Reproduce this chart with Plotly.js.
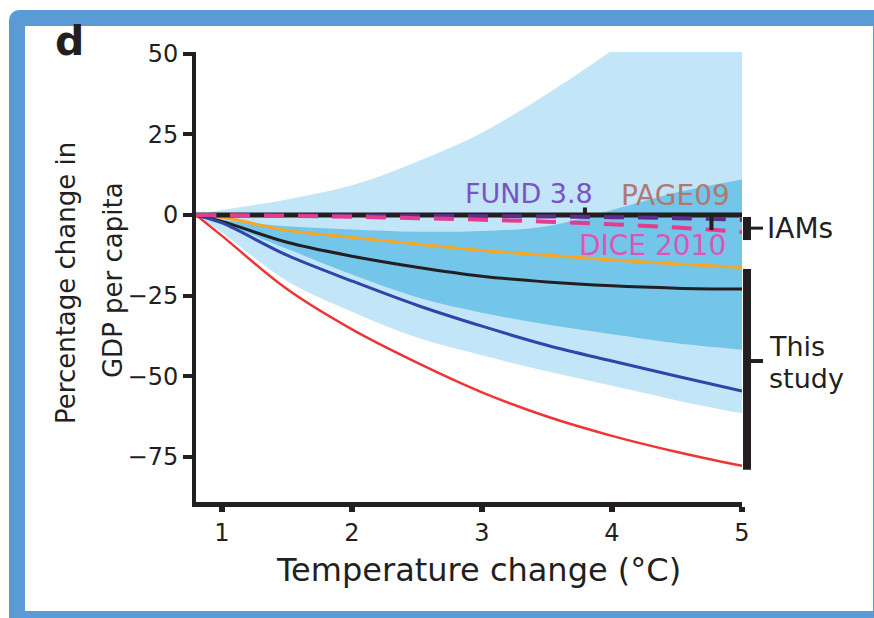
<!DOCTYPE html>
<html>
<head>
<meta charset="utf-8">
<script src="https://cdn.plot.ly/plotly-3.0.1.min.js"></script>
<style>
html, body { margin: 0; padding: 0; background: #ffffff; }
body { position: relative; width: 874px; height: 618px; overflow: hidden; }
#frame { position: absolute; left: 9px; top: 10px; width: 880px; height: 617px; box-sizing: border-box;
         border: 16px solid #5b9bd5; border-radius: 10px; }
#chart { position: absolute; left: 0; top: 0; width: 874px; height: 618px; }
</style>
</head>
<body>
<div id="frame"></div>
<div id="chart"></div>
<script>
// Temperature change (°C)
const tempC = [0.8, 1, 1.5, 2, 2.5, 3, 3.5, 4, 4.5, 5];

// Uncertainty bands (percentage change in GDP per capita)
const outerBandUpper = [0, 1.5, 4.8, 9.2, 16.5, 25.5, 37.5, 51, 66, 83];
const outerBandLower = [0, -5.5, -20.5, -30, -38, -43.5, -48.5, -53, -57.5, -61.5];
const innerBandUpper = [0, -1.5, -3.5, -4.5, -5.2, -5, -3.5, 1.5, 7, 11];
const innerBandLower = [0, -2.5, -10.5, -18.5, -25.5, -30.3, -34, -37, -39.8, -41.8];

// This study: curves
const medianLine = [0, -2, -8.5, -12.8, -16.2, -19, -20.8, -22, -22.7, -23];
const orangeLine = [0, -0.7, -4.8, -7, -9, -11, -12.5, -14, -15.2, -16.3];
const blueLine   = [0, -2.5, -12.5, -20.5, -28, -34.5, -40.4, -45.3, -50, -54.6];
const redLine    = [0, -6.5, -23, -35.5, -45.8, -55, -62.5, -68.5, -73.5, -77.8];

// IAMs
const zeroLine = [0, 0, 0, 0, 0, 0, 0, 0, 0, 0];
const fund38   = [0, 0, -0.1, -0.2, -0.3, -0.4, -0.5, -0.7, -1.0, -1.5];
const dice2010 = [0, -0.1, -0.3, -0.6, -1, -1.5, -2.1, -2.9, -3.9, -5.3];

// Axis ticks
const xTicks = [1, 2, 3, 4, 5];
const yTicks = [-75, -50, -25, 0, 25, 50];

const INK = '#231f20';
const FONT = 'DejaVu Sans, Arial, sans-serif';

function band(y, name, fill, color) {
  return { x: tempC, y: y, name: name, type: 'scatter', mode: 'lines',
           line: { width: 0, shape: 'spline', smoothing: 1, color: color },
           fill: fill, fillcolor: color, hoverinfo: 'skip', showlegend: false };
}
function curve(y, name, color, width, dash) {
  return { x: tempC, y: y, name: name, type: 'scatter', mode: 'lines',
           line: { width: width, color: color, shape: 'spline', smoothing: 1, dash: dash || 'solid' },
           hoverinfo: 'skip', showlegend: false };
}

const traces = [
  band(outerBandLower, 'outer lower', 'none', '#c2e5f7'),
  band(outerBandUpper, 'outer upper', 'tonexty', '#c2e5f7'),
  band(innerBandLower, 'inner lower', 'none', '#73c6ea'),
  band(innerBandUpper, 'inner upper', 'tonexty', '#73c6ea'),
  curve(orangeLine, 'orange', '#f5a623', 3),
  curve(medianLine, 'median', INK, 3),
  curve(blueLine, 'blue', '#2c46aa', 3),
  curve(redLine, 'red', '#ee3535', 2.5),
  curve(zeroLine, 'zero', INK, 5),
  curve(fund38, 'FUND 3.8', '#5e2d8a', 4, '20px,14px'),
  curve(dice2010, 'DICE 2010', '#e23d8e', 4, '20px,14px')
];

const layout = {
  width: 874, height: 618,
  margin: { l: 196, r: 132, t: 52, b: 116, pad: 0 },
  paper_bgcolor: 'rgba(0,0,0,0)',
  plot_bgcolor: 'rgba(0,0,0,0)',
  showlegend: false,
  font: { family: FONT, color: INK },
  xaxis: {
    range: [0.8, 5], tickvals: xTicks, ticktext: xTicks.map(String),
    showline: true, linecolor: INK, linewidth: 5,
    ticks: 'outside', ticklen: 5, tickwidth: 6, tickcolor: INK,
    showgrid: false, zeroline: false,
    tickfont: { family: FONT, size: 24, color: INK }
  },
  yaxis: {
    range: [-89, 50.5], tickvals: yTicks, ticktext: yTicks.map(v => v < 0 ? '\u2212' + Math.abs(v) : String(v)),
    showline: true, linecolor: INK, linewidth: 4,
    ticks: 'outside', ticklen: 9, tickwidth: 4, tickcolor: INK,
    showgrid: false, zeroline: false,
    tickfont: { family: FONT, size: 24, color: INK }
  },
  shapes: [
    // leader marks
    { type: 'line', xref: 'x', yref: 'y', x0: 3.792, x1: 3.792, y0: 0, y1: 2.3, line: { color: INK, width: 4 } },
    { type: 'line', xref: 'x', yref: 'y', x0: 4.765, x1: 4.765, y0: 0.5, y1: -4.7, line: { color: INK, width: 4 } },
    // IAMs bracket
    { type: 'line', xref: 'paper', yref: 'y', x0: 1.0092, x1: 1.0092, y0: -0.65, y1: -7.8, line: { color: INK, width: 8 } },
    { type: 'line', xref: 'paper', yref: 'y', x0: 1.0165, x1: 1.0385, y0: -4.1, y1: -4.1, line: { color: INK, width: 3 } },
    // This study bracket
    { type: 'line', xref: 'paper', yref: 'y', x0: 1.0092, x1: 1.0092, y0: -16.8, y1: -79.0, line: { color: INK, width: 8 } },
    { type: 'line', xref: 'paper', yref: 'y', x0: 1.0165, x1: 1.0385, y0: -45.3, y1: -45.3, line: { color: INK, width: 4 } }
  ],
  annotations: [
    { text: '<b>d</b>', xref: 'paper', yref: 'paper', x: -0.2317, y: 1.0244, showarrow: false,
      font: { family: 'DejaVu Sans', size: 41, color: INK }, xanchor: 'center', yanchor: 'middle' },
    { text: 'Percentage change in', xref: 'paper', yref: 'paper', x: -0.2381, y: 0.4867, textangle: -90,
      showarrow: false, font: { family: FONT, size: 26, color: INK }, xanchor: 'center', yanchor: 'middle' },
    { text: 'GDP per capita', xref: 'paper', yref: 'paper', x: -0.152, y: 0.4933, textangle: -90,
      showarrow: false, font: { family: FONT, size: 26, color: INK }, xanchor: 'center', yanchor: 'middle' },
    { text: 'Temperature change (°C)', xref: 'paper', yref: 'paper', x: 0.5183, y: -0.152, showarrow: false,
      font: { family: FONT, size: 32, color: INK }, xanchor: 'center', yanchor: 'middle' },
    { text: 'FUND 3.8', xref: 'x', yref: 'y', x: 3.362, y: 6.5, showarrow: false,
      font: { family: FONT, size: 27, color: '#7b52c4' }, xanchor: 'center', yanchor: 'middle' },
    { text: 'PAGE09', xref: 'x', yref: 'y', x: 4.488, y: 6.0, showarrow: false,
      font: { family: FONT, size: 28, color: '#b07872' }, xanchor: 'center', yanchor: 'middle' },
    { text: 'DICE 2010', xref: 'x', yref: 'y', x: 4.308, y: -9.6, showarrow: false,
      font: { family: FONT, size: 28, color: '#dd55b5' }, xanchor: 'center', yanchor: 'middle' },
    { text: 'IAMs', xref: 'paper', yref: 'y', x: 1.0421, y: -4.1, showarrow: false,
      font: { family: FONT, size: 28, color: INK }, xanchor: 'left', yanchor: 'middle' },
    { text: 'This', xref: 'paper', yref: 'y', x: 1.0458, y: -40.9, showarrow: false,
      font: { family: FONT, size: 27, color: INK }, xanchor: 'left', yanchor: 'middle' },
    { text: 'study', xref: 'paper', yref: 'y', x: 1.0458, y: -50.8, showarrow: false,
      font: { family: FONT, size: 27, color: INK }, xanchor: 'left', yanchor: 'middle' }
  ]
};

Plotly.newPlot('chart', traces, layout, { staticPlot: true, displayModeBar: false });
</script>
</body>
</html>
